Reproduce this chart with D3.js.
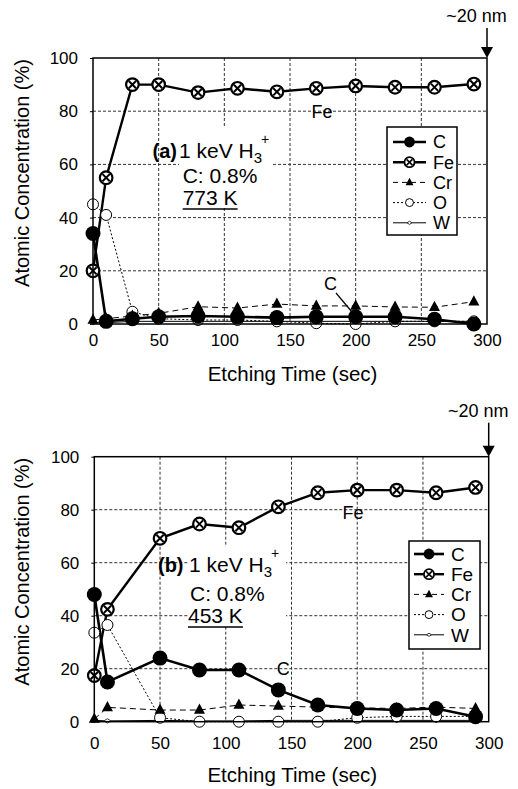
<!DOCTYPE html>
<html>
<head>
<meta charset="utf-8">
<script src="https://cdn.jsdelivr.net/npm/d3@7"></script>
<style>
  body { margin: 0; background: #fff; }
  svg { display: block; font-family: "Liberation Sans", Arial, sans-serif; }
</style>
</head>
<body>
<div id="chart"></div>
<script>
// etching times (sec)
const timesA = [0, 10, 30, 50, 80, 110, 140, 170, 200, 230, 260, 290];
const timesB = [0, 10, 50, 80, 110, 140, 170, 200, 230, 260, 290];

// (a) 773 K, atomic concentration (%)
const carbonA   = [34, 1, 2, 2.7, 3, 2.7, 2.4, 2.7, 2.7, 2.7, 1.8, 0];
const ironA     = [20, 55, 90, 90, 87, 88.6, 87.3, 88.6, 89.5, 89, 89, 90.2];
const chromiumA = [1.5, 2, 3, 4, 6.5, 6, 7.5, 6.8, 6.8, 6.4, 6.3, 8.4];
const oxygenA   = [45, 41, 4.6, 2, 1.5, 1.5, 1, 0.3, 0, 1, 1, 1];
const tungstenA = [0.5, 0.5, 1, 1, 1, 1, 1, 1, 1, 1, 1, 1];

// (b) 453 K
const carbonB   = [48, 15, 24, 19.5, 19.5, 12, 6.3, 5, 4.4, 5, 1.9];
const ironB     = [17.4, 42.4, 69.2, 74.6, 73.2, 81.1, 86.4, 87.4, 87.4, 86.4, 88.4];
const chromiumB = [1, 5.4, 4.4, 4.4, 6.3, 5.9, 5.5, 5.2, 5, 5.5, 5];
const oxygenB   = [33.6, 36.5, 1.5, 0, 0, 0, 0, 1.5, 2, 2, 2];
const tungstenB = [0.5, 0.3, 0.5, 0.3, 0.3, 0.5, 0.5, 0.5, 0.5, 0.5, 0.5];

const elements = ["C", "Fe", "Cr", "O", "W"];
const xTicks = [0, 50, 100, 150, 200, 250, 300];
const yTicks = [0, 20, 40, 60, 80, 100];

// line style per element
const lineStyle = {
  C:  { width: 2.6, dash: null },
  Fe: { width: 2.4, dash: null },
  Cr: { width: 1, dash: "6,4" },
  O:  { width: 1, dash: "2,2" },
  W:  { width: 1, dash: null }
};

function addMarker(g, type, s) {
  if (type === "C") {
    g.append("circle").attr("r", 7.5 * s).attr("fill", "#000");
  } else if (type === "Fe") {
    g.append("circle").attr("r", 6.3 * s).attr("fill", "#fff")
      .attr("stroke", "#000").attr("stroke-width", 2.2 * s);
    const a = 3.6 * s;
    g.append("path").attr("d", `M${-a},${-a}L${a},${a}M${-a},${a}L${a},${-a}`)
      .attr("stroke", "#000").attr("stroke-width", 2 * s);
  } else if (type === "Cr") {
    g.append("path").attr("d", `M0,${-6.5 * s}L${5.5 * s},${3.8 * s}L${-5.5 * s},${3.8 * s}Z`)
      .attr("fill", "#000");
  } else if (type === "O") {
    g.append("circle").attr("r", 5.5 * s).attr("fill", "#fff")
      .attr("stroke", "#000").attr("stroke-width", 1);
  } else if (type === "W") {
    g.append("path").attr("d", `M${-3.5 * s},0L0,${-2.2 * s}L${3.5 * s},0L0,${2.2 * s}Z`)
      .attr("fill", "#fff").attr("stroke", "#333").attr("stroke-width", 1);
  }
}

class DepthProfile {
  constructor(svg, _config) {
    this.svg = svg;
    this.config = _config;
    this.init();
  }

  init() {
    let vis = this;
    const c = vis.config;

    vis.g = vis.svg.append("g").attr("transform", `translate(${c.left},${c.top})`);

    vis.x = d3.scaleLinear().domain([0, 300]).range([0, c.width]);
    vis.y = d3.scaleLinear().domain([0, 100]).range([c.height, 0]);

    vis.render();
  }

  render() {
    let vis = this;
    const c = vis.config;
    const g = vis.g;

    // grid lines
    g.append("g").selectAll("line")
      .data(yTicks.filter((d) => d > 0 && d < 100))
      .join("line")
      .attr("x1", 0).attr("x2", c.width)
      .attr("y1", (d) => vis.y(d)).attr("y2", (d) => vis.y(d))
      .attr("stroke", "#333").attr("stroke-width", 1).attr("stroke-dasharray", "3,2");
    g.append("g").selectAll("line")
      .data(xTicks.filter((d) => d > 0 && d < 300))
      .join("line")
      .attr("x1", (d) => vis.x(d)).attr("x2", (d) => vis.x(d))
      .attr("y1", 0).attr("y2", c.height)
      .attr("stroke", "#333").attr("stroke-width", 1).attr("stroke-dasharray", "3,2");

    // white box behind the condition text
    g.append("rect")
      .attr("x", c.box[0]).attr("y", c.box[1])
      .attr("width", c.box[2]).attr("height", c.box[3])
      .attr("fill", "#fff");

    // axes
    const yAxis = g.append("g")
      .call(d3.axisLeft(vis.y).tickValues(yTicks).tickSize(3).tickPadding(12));
    const xAxis = g.append("g")
      .attr("transform", `translate(0,${c.height})`)
      .call(d3.axisBottom(vis.x).tickValues(xTicks).tickSize(0).tickPadding(c.xTickPad));
    [yAxis, xAxis].forEach((a) => {
      a.select(".domain").remove();
      a.selectAll("text").attr("font-size", 17).attr("fill", "#000")
        .attr("font-family", "Liberation Sans, Arial, sans-serif");
      a.selectAll("line").attr("stroke", "#000");
    });

    // series lines
    const order = ["W", "O", "Cr", "Fe", "C"];
    order.forEach((el) => {
      const vals = c.series[el];
      const pts = c.times.map((t, i) => [t, vals[i]]);
      const st = lineStyle[el];
      g.append("path")
        .datum(pts)
        .attr("fill", "none")
        .attr("stroke", "#000")
        .attr("stroke-width", st.width)
        .attr("stroke-dasharray", st.dash)
        .attr("d", d3.line().x((d) => vis.x(d[0])).y((d) => vis.y(d[1])));
    });
    order.forEach((el) => {
      const vals = c.series[el];
      const pts = c.times.map((t, i) => [t, vals[i]]);
      g.append("g").selectAll("g")
        .data(pts)
        .join("g")
        .attr("transform", (d) => `translate(${vis.x(d[0])},${vis.y(d[1])})`)
        .each(function () { addMarker(d3.select(this), el, 1); });
    });

    // frame
    g.append("rect")
      .attr("width", c.width).attr("height", c.height)
      .attr("fill", "none").attr("stroke", "#000").attr("stroke-width", 1.5);

    // condition text
    g.append("text")
      .attr("x", c.tag[0]).attr("y", c.tag[1])
      .attr("font-size", 20).attr("font-weight", "bold")
      .text(c.label);
    const ion = g.append("text")
      .attr("x", c.ion[0]).attr("y", c.ion[1])
      .attr("font-size", 21);
    ion.append("tspan").text("1 keV H");
    ion.append("tspan").attr("font-size", 15).attr("dy", 5).text("3");
    ion.append("tspan").attr("font-size", 14).attr("dy", -19).attr("dx", -1).text("+");
    g.append("text")
      .attr("x", c.conc[0]).attr("y", c.conc[1])
      .attr("font-size", 21).text("C: 0.8%");
    const tempText = g.append("text")
      .attr("x", c.temp[0]).attr("y", c.temp[1])
      .attr("font-size", 21).text(c.tempLabel);
    const tw = tempText.node().getComputedTextLength();
    g.append("line")
      .attr("x1", c.temp[0]).attr("x2", c.temp[0] + tw)
      .attr("y1", c.temp[1] + 4).attr("y2", c.temp[1] + 4)
      .attr("stroke", "#000").attr("stroke-width", 1.5);

    // series labels inside plot
    g.append("text")
      .attr("x", c.feLabel[0]).attr("y", c.feLabel[1])
      .attr("text-anchor", "middle").attr("font-size", 18).text("Fe");
    g.append("text")
      .attr("x", c.cLabel[0]).attr("y", c.cLabel[1])
      .attr("font-size", 18).text("C");
    if (c.cLeader) {
      g.append("line")
        .attr("x1", c.cLeader[0]).attr("y1", c.cLeader[1])
        .attr("x2", c.cLeader[2]).attr("y2", c.cLeader[3])
        .attr("stroke", "#000").attr("stroke-width", 1.2);
    }

    // ~20 nm arrow at 300 sec
    const ax = vis.x(300);
    g.append("text")
      .attr("x", ax - 10.5).attr("y", c.nmY)
      .attr("text-anchor", "middle").attr("font-size", 18).text("~20 nm");
    g.append("line")
      .attr("x1", ax).attr("x2", ax)
      .attr("y1", c.arrowY).attr("y2", -8)
      .attr("stroke", "#000").attr("stroke-width", 1.5);
    g.append("path")
      .attr("d", `M${ax - 6},-11L${ax + 6},-11L${ax},0Z`)
      .attr("fill", "#000");

    // axis titles
    g.append("text")
      .attr("transform", `translate(${c.yTitle[0]},${c.yTitle[1]}) rotate(-90)`)
      .attr("text-anchor", "middle").attr("font-size", 20)
      .text("Atomic Concentration (%)");
    g.append("text")
      .attr("x", c.xTitle[0]).attr("y", c.height + c.xTitle[1])
      .attr("text-anchor", "middle").attr("font-size", 20.5)
      .text("Etching Time (sec)");

    // legend
    const lg = g.append("g").attr("transform", `translate(${c.legend[0]},${c.legend[1]})`);
    lg.append("rect")
      .attr("width", c.legend[2]).attr("height", 108)
      .attr("fill", "#fff").attr("stroke", "#000").attr("stroke-width", 1.5);
    const rows = lg.selectAll("g.row")
      .data(elements)
      .join("g")
      .attr("class", "row")
      .attr("transform", (d, i) => `translate(0,${c.legendRow0 + i * 20.2})`);
    rows.append("line")
      .attr("x1", c.legendLine[0]).attr("x2", c.legendLine[1])
      .attr("stroke", "#000")
      .attr("stroke-width", (d) => lineStyle[d].width)
      .attr("stroke-dasharray", (d) => (d === "Cr" ? "5,4" : lineStyle[d].dash));
    rows.each(function (d) {
      const m = d3.select(this).append("g")
        .attr("transform", `translate(${(c.legendLine[0] + c.legendLine[1]) / 2},0)`);
      addMarker(m, d, d === "Fe" ? 0.8 : 0.72);
    });
    rows.append("text")
      .attr("x", c.legendText).attr("dy", "0.36em")
      .attr("font-size", c.legendFont).text((d) => d);
  }
}

const svg = d3.select("#chart").append("svg")
  .attr("width", 518).attr("height", 789);

new DepthProfile(svg, {
  left: 93, top: 58, width: 394, height: 266,
  times: timesA,
  series: { C: carbonA, Fe: ironA, Cr: chromiumA, O: oxygenA, W: tungstenA },
  label: "(a)", tempLabel: "773 K",
  tag: [59.5, 100], ion: [86, 100], conc: [89.7, 125], temp: [89.7, 147],
  box: [86, 70, 93, 80],
  feLabel: [229, 60], cLabel: [231, 232], cLeader: [243, 235, 259, 254],
  nmY: -36, arrowY: -30,
  yTitle: [-64, 115], xTitle: [199.5, 57], xTickPad: 10,
  legend: [294, 69, 70], legendRow0: 15, legendLine: [6, 39], legendText: 46, legendFont: 18
});

new DepthProfile(svg, {
  left: 94.3, top: 456.7, width: 394.4, height: 265,
  times: timesB,
  series: { C: carbonB, Fe: ironB, Cr: chromiumB, O: oxygenB, W: tungstenB },
  label: "(b)", tempLabel: "453 K",
  tag: [63.7, 115.3], ion: [94.7, 115.3], conc: [95.7, 144.3], temp: [93.7, 166.3],
  box: [93.7, 90, 98, 80],
  feLabel: [258.7, 62.3], cLabel: [182.4, 218.3], cLeader: null,
  nmY: -40, arrowY: -34,
  yTitle: [-65.5, 115], xTitle: [198, 60], xTickPad: 15,
  legend: [314.7, 84.3, 71], legendRow0: 13, legendLine: [5, 35], legendText: 42, legendFont: 19
});
</script>
</body>
</html>
